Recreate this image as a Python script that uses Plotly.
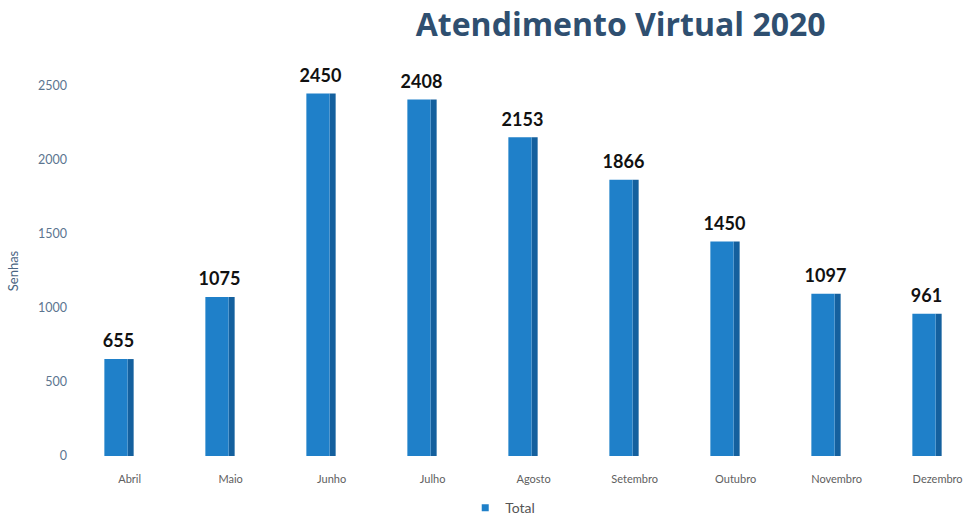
import plotly.graph_objects as go

months = ["Abril", "Maio", "Junho", "Julho", "Agosto", "Setembro", "Outubro", "Novembro", "Dezembro"]
totals = [655, 1075, 2450, 2408, 2153, 1866, 1450, 1097, 961]
y_ticks = [0, 500, 1000, 1500, 2000, 2500]

idx = list(range(len(months)))
label_shift = 0.11  # month labels sit slightly right of the bars (3D perspective)

fig = go.Figure()
# side face (darker) for a pseudo-3D look
fig.add_trace(go.Bar(
    x=idx, y=totals, width=0.06, offset=0.09,
    marker=dict(color="#14609e", line=dict(width=0)),
    showlegend=False, hoverinfo="skip",
))
# front face
fig.add_trace(go.Bar(
    x=idx, y=totals, width=0.23, offset=-0.14, name="Total",
    marker=dict(color="#1f80c9", line=dict(width=0)),
    showlegend=False,
))
# value labels
fig.add_trace(go.Scatter(
    x=idx, y=totals, mode="markers+text", text=[str(v) for v in totals],
    textposition="top center",
    marker=dict(size=10, opacity=0),
    textfont=dict(family="Lato", size=18, color="#111111", weight="bold"),
    showlegend=False, hoverinfo="skip", cliponaxis=False,
))
# legend entry
fig.add_trace(go.Scatter(
    x=[None], y=[None], mode="markers", name="Total",
    marker=dict(symbol="square", size=7, color="#1f80c9"),
))

fig.update_layout(
    width=979, height=522,
    paper_bgcolor="white", plot_bgcolor="white",
    barmode="overlay",
    margin=dict(l=68, r=2, t=86, b=66, autoexpand=False),
    title=dict(text="<b>Atendimento Virtual 2020</b>", x=0.634, xref="container",
               y=0.953, yref="container", xanchor="center", yanchor="middle",
               font=dict(family="Open Sans", size=32, color="#2f4f70")),
    xaxis=dict(range=[-0.5, 8.5], tickvals=[i + label_shift for i in idx], ticktext=months,
               showgrid=False, showline=False, zeroline=False, ticks="",
               ticklabelstandoff=15,
               tickfont=dict(family="Lato", size=11, color="#606060")),
    yaxis=dict(range=[0, 2500], tickvals=y_ticks, showgrid=False, zeroline=False,
               showline=False, ticks="",
               tickfont=dict(family="Lato", size=12.5, color="#5c7590"),
               title=dict(text="Senhas", standoff=16,
                          font=dict(family="Lato", size=13, color="#4a6482"))),
    legend=dict(orientation="h", x=0.437, xanchor="left", y=-0.141, yanchor="middle",
                itemwidth=30,
                font=dict(family="Lato", size=14, color="#555555")),
)

fig.write_html("out.html", post_script="document.body.style.margin='0px';",
               config={"displayModeBar": False})
